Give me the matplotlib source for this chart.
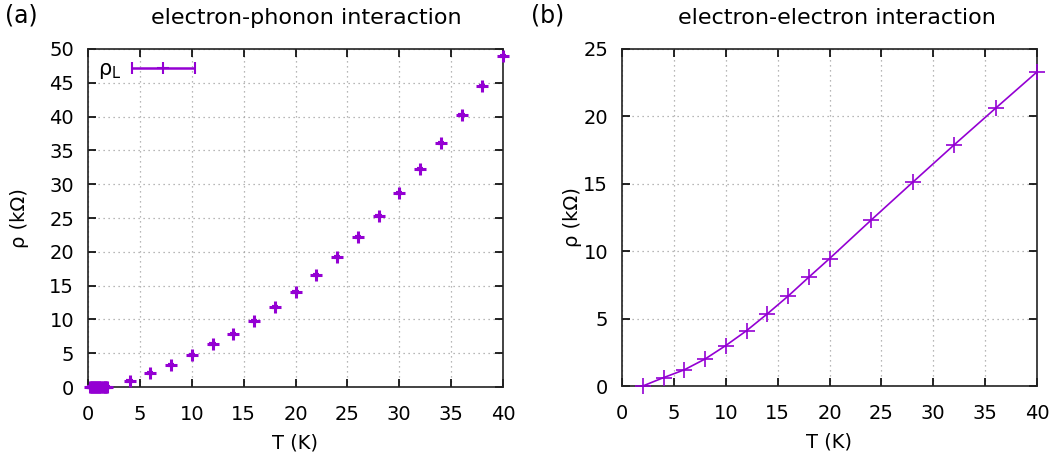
import numpy as np
import matplotlib
matplotlib.use("Agg")
import matplotlib.pyplot as plt
from matplotlib.container import ErrorbarContainer
from matplotlib.legend_handler import HandlerErrorbar

# ---- data: panel (a) electron-phonon ----
T_low = [0.2, 0.3, 0.4, 0.5, 0.6, 0.7, 0.8, 0.9, 1.0, 1.1, 1.2, 1.3, 1.4, 1.5, 1.6, 1.7, 1.8]
rho_low = [0.01, 0.01, 0.01, 0.01, 0.01, 0.02, 0.02, 0.02, 0.02, 0.03, 0.03, 0.04, 0.04, 0.05, 0.05, 0.06, 0.07]
T_a = [4, 6, 8, 10, 12, 14, 16, 18, 20, 22, 24, 26, 28, 30, 32, 34, 36, 38, 40]
rho_a = [0.9, 2.0, 3.3, 4.7, 6.3, 7.9, 9.8, 11.8, 14.1, 16.6, 19.2, 22.2, 25.3, 28.7, 32.3, 36.1, 40.2, 44.5, 49.0]
T_err = 0.3

# ---- data: panel (b) electron-electron ----
T_b = [2, 4, 6, 8, 10, 12, 14, 16, 18, 20, 24, 28, 32, 36, 40]
rho_b = [0.0, 0.62, 1.2, 2.0, 3.0, 4.1, 5.35, 6.66, 8.07, 9.45, 12.3, 15.1, 17.88, 20.6, 23.3]

color = "#9400D3"
xticks = [0, 5, 10, 15, 20, 25, 30, 35, 40]
yticks_a = [0, 5, 10, 15, 20, 25, 30, 35, 40, 45, 50]
yticks_b = [0, 5, 10, 15, 20, 25]

plt.rcParams['font.family'] = ['DejaVu Sans']
fig = plt.figure(figsize=(10.58, 4.61), dpi=100)
W, H = 1058, 461
axA = fig.add_axes([88 / W, (H - 387) / H, 415 / W, 338 / H])
axB = fig.add_axes([622 / W, (H - 386) / H, 415 / W, 337 / H])


def style(ax, yticks, ymax, ylpad):
    ax.set_xlim(0, 40)
    ax.set_ylim(0, ymax)
    ax.set_xticks(xticks)
    ax.set_yticks(yticks)
    ax.tick_params(direction='in', length=6, width=1.2, top=True, right=True,
                   labelsize=14, pad=10, colors='black')
    ax.tick_params(axis='x', pad=13)
    ax.grid(True, linestyle=(0, (1, 3)), color='#a0a0a0', linewidth=0.9)
    for s in ax.spines.values():
        s.set_linewidth(1.2)
        s.set_color('#222222')
    ax.set_xlabel('T (K)', fontsize=14, labelpad=7)
    ax.set_ylabel('ρ (kΩ)', fontsize=14, labelpad=ylpad)


style(axA, yticks_a, 50, 14.5)
style(axB, yticks_b, 25, 1)

# panel (a)
axA.errorbar(T_low + T_a, rho_low + rho_a, xerr=T_err, fmt='+', color=color,
             ms=9, mew=2.2, elinewidth=3, capsize=0,
             clip_on=False, zorder=5)
# legend proxy (errorbar sample)
axA.errorbar([np.nan], [np.nan], xerr=[1.0], fmt='+', color=color,
             ms=8, mew=1.5, elinewidth=1.8, capsize=4, capthick=1.5,
             label='ρ$_\\mathrm{L}$')
leg = axA.legend(loc='upper left', frameon=False, markerfirst=False,
                 fontsize=15, handlelength=3.1, borderaxespad=0.3,
                 handletextpad=0.45, borderpad=0.2,
                 handler_map={ErrorbarContainer: HandlerErrorbar(xerr_size=1.5)})
axA.set_title('electron-phonon interaction', fontsize=16, pad=18, x=0.525)

# panel (b)
axB.plot(T_b, rho_b, '-', color=color, lw=1.2, marker='+', ms=11, mew=1.2,
         clip_on=False, zorder=5)
axB.set_title('electron-electron interaction', fontsize=16, pad=18, x=0.517)

fig.text(5 / W, 1 - 16 / H, '(a)', fontsize=17, va='center', ha='left')
fig.text(531 / W, 1 - 16 / H, '(b)', fontsize=17, va='center', ha='left')

fig.savefig('out.png', dpi=100)
